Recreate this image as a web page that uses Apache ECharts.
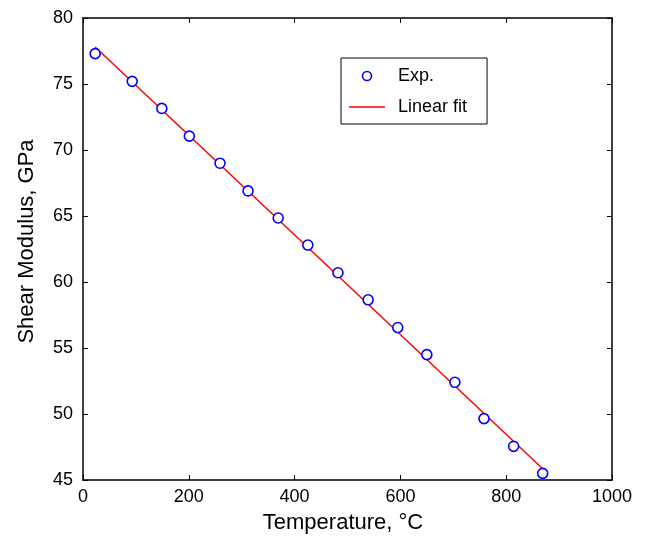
<!DOCTYPE html>
<html>
<head>
<meta charset="utf-8">
<script src="https://cdn.jsdelivr.net/npm/echarts@6/dist/echarts.min.js"></script>
<style>html,body{margin:0;padding:0;background:#fff}#c{width:646px;height:541px}</style>
</head>
<body>
<div id="c"></div>
<script>
var temperatures = [23, 93, 149, 201, 259, 312, 369, 425, 482, 539, 595, 650, 703, 758, 814, 869];
var modulusExp = [77.3, 75.2, 73.15, 71.05, 69.0, 66.9, 64.85, 62.8, 60.7, 58.65, 56.55, 54.5, 52.4, 49.65, 47.55, 45.5];
var fitTemps = [23, 869];
var fitValues = [77.8, 45.85];
var xTicks = [0, 200, 400, 600, 800, 1000];
var yTicks = [45, 50, 55, 60, 65, 70, 75, 80];
var seriesNames = ['Exp.', 'Linear fit'];
var xTitle = 'Temperature, \u00B0C';
var yTitle = 'Shear Modulus, GPa';

var font = "'Liberation Sans', Arial, Helvetica, sans-serif";
var axisLine = {show: true, onZero: false, lineStyle: {color: '#000', width: 1.5}};
var tick = {show: true, inside: true, length: 5, lineStyle: {color: '#000', width: 1}};

var chart = echarts.init(document.getElementById('c'), null, {renderer: 'canvas'});
chart.setOption({
  animation: false,
  backgroundColor: '#fff',
  textStyle: {fontFamily: font},
  grid: {left: 83, right: 34, top: 18, bottom: 61, containLabel: false},
  legend: {
    left: 341, top: 58, orient: 'vertical',
    backgroundColor: '#fff',
    borderColor: '#000', borderWidth: 1, borderRadius: 0,
    padding: [9, 20, 8, 8],
    itemWidth: 36, itemHeight: 9, itemGap: 13,
    textStyle: {fontFamily: font, fontSize: 18, color: '#000', padding: [0, 0, 0, 8]},
    data: [
      {name: seriesNames[0], icon: 'circle', itemStyle: {color: '#fff', borderColor: '#0000ff', borderWidth: 1.6}},
      {name: seriesNames[1], icon: 'path://M0,0 L36,0 L36,1.5 L0,1.5 Z', itemStyle: {color: '#ff0000', borderWidth: 0}}
    ]
  },
  xAxis: [{
    type: 'value', min: xTicks[0], max: xTicks[xTicks.length - 1], interval: 200,
    name: xTitle, nameLocation: 'middle', nameGap: 32,
    nameTextStyle: {fontFamily: font, fontSize: 22, color: '#000', padding: [0, 9, 0, 0]},
    axisLine: axisLine, axisTick: tick, splitLine: {show: false},
    axisLabel: {fontFamily: font, fontSize: 18, color: '#000', margin: 8, formatter: function (v) { return String(v); }}
  }, {
    type: 'value', position: 'top', min: xTicks[0], max: xTicks[xTicks.length - 1], interval: 200,
    axisLine: axisLine, axisTick: tick, splitLine: {show: false}, axisLabel: {show: false}
  }],
  yAxis: [{
    type: 'value', min: yTicks[0], max: yTicks[yTicks.length - 1], interval: 5,
    name: yTitle, nameLocation: 'middle', nameGap: 45,
    nameTextStyle: {fontFamily: font, fontSize: 22, color: '#000', padding: [0, 0, 0, 15]},
    axisLine: axisLine, axisTick: tick, splitLine: {show: false},
    axisLabel: {fontFamily: font, fontSize: 18, color: '#000', margin: 10}
  }, {
    type: 'value', position: 'right', min: yTicks[0], max: yTicks[yTicks.length - 1], interval: 5,
    axisLine: axisLine, axisTick: tick, splitLine: {show: false}, axisLabel: {show: false}
  }],
  series: [{
    name: seriesNames[0], type: 'scatter', xAxisIndex: 0, yAxisIndex: 0, z: 3,
    symbol: 'circle', symbolSize: 10,
    itemStyle: {color: '#fff', borderColor: '#0000ff', borderWidth: 1.6, opacity: 1},
    data: temperatures.map(function (t, i) { return [t, modulusExp[i]]; })
  }, {
    name: seriesNames[1], type: 'line', xAxisIndex: 0, yAxisIndex: 0, z: 2,
    showSymbol: false, symbol: 'none',
    lineStyle: {color: '#ff0000', width: 1.5},
    itemStyle: {color: '#ff0000'},
    data: fitTemps.map(function (t, i) { return [t, fitValues[i]]; })
  }]
});
</script>
</body>
</html>
